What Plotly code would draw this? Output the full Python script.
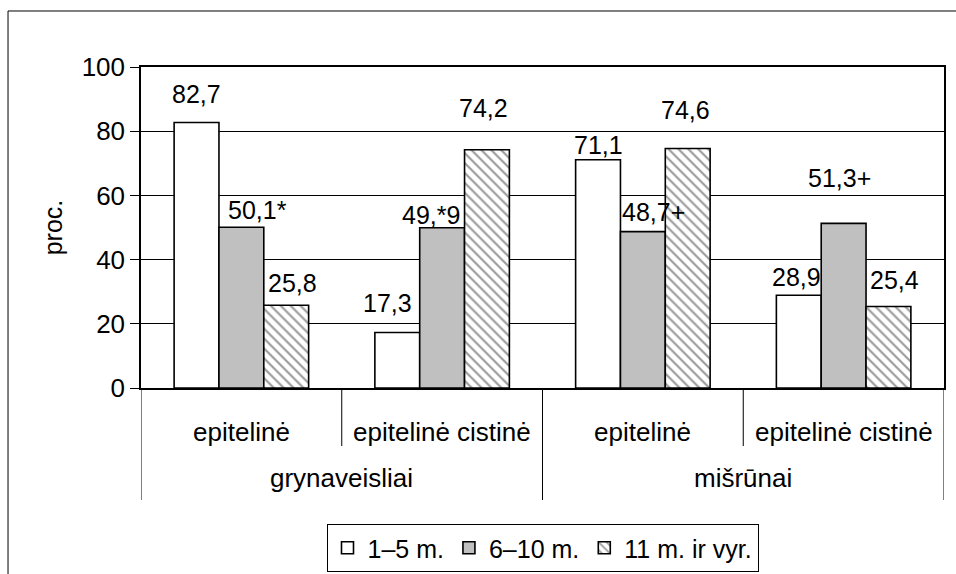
import plotly.graph_objects as go

# Categories: breed group (outer level) and tumour type (inner level)
groups = ["grynaveisliai", "grynaveisliai", "mišrūnai", "mišrūnai"]
types = ["epitelinė", "epitelinė cistinė", "epitelinė", "epitelinė cistinė"]

# Age classes and their shares, %
series_names = ["1–5 m.", "6–10 m.", "11 m. ir vyr."]
age_1_5 = [82.7, 17.3, 71.1, 28.9]
age_6_10 = [50.1, 49.9, 48.7, 51.3]
age_11_plus = [25.8, 74.2, 74.6, 25.4]
series_values = [age_1_5, age_6_10, age_11_plus]

# Label text per bar ({i} = integer part, {d} = decimal digit)
label_formats = [
    ["{i},{d}", "{i},{d}", "{i},{d}", "{i},{d}"],
    ["{i},{d}*", "{i},*{d}", "{i},{d}+", "{i},{d}+"],
    ["{i},{d}", "{i},{d}", "{i},{d}", "{i},{d}"],
]

# Label placement relative to the bar top (pixels)
label_dx = [[0, -9.5, 0, -2], [16.5, -11, 11, -4], [6, -3, -2, 6]]
label_dy = [[29, 29, 15, 18.5], [17, 13, 20, 45], [22, 41.5, 39, 26.5]]

FONT = "Liberation Sans, Arial, sans-serif"
FS = 25
FS_AXIS = 26
fill_colors = ["#FFFFFF", "#C0C0C0", "#FFFFFF"]
patterns = [None, None, dict(shape="\\", fgcolor="#333333", bgcolor="#FFFFFF",
                             size=7, solidity=0.3)]
BARGAP = 0.33

# Vertical placement of the category axis (paper units below the plot)
PLOT_H = 321
inner_label_y = -44 / PLOT_H
outer_label_y = -90 / PLOT_H
inner_sep_y = -58 / PLOT_H
outer_sep_y = -112 / PLOT_H

xpos = list(range(len(types)))

fig = go.Figure()
for j, (name, vals) in enumerate(zip(series_names, series_values)):
    marker = dict(color=fill_colors[j], line=dict(color="#000000", width=1.6))
    if patterns[j]:
        marker["pattern"] = patterns[j]
    fig.add_trace(go.Bar(name=name, x=xpos, y=vals, marker=marker))

# Value labels
n = len(series_values)
w = (1 - BARGAP) / n
for j, vals in enumerate(series_values):
    for k, v in enumerate(vals):
        whole, dec = f"{v:.1f}".split(".")
        text = label_formats[j][k].format(i=whole, d=dec)
        fig.add_annotation(
            x=xpos[k] + (j - (n - 1) / 2) * w, y=v, xref="x", yref="y",
            text=text, showarrow=False, yanchor="middle", xanchor="center",
            xshift=label_dx[j][k], yshift=label_dy[j][k],
            font=dict(family=FONT, size=FS, color="#000000"),
        )

# Two-level category labels
for k, t in enumerate(types):
    fig.add_annotation(x=xpos[k], y=inner_label_y, xref="x", yref="paper",
                       text=t, showarrow=False, yanchor="middle",
                       font=dict(family=FONT, size=FS_AXIS, color="#000000"))
seen = []
for g in groups:
    if g in seen:
        continue
    seen.append(g)
    idx = [xpos[k] for k in range(len(groups)) if groups[k] == g]
    fig.add_annotation(x=sum(idx) / len(idx), y=outer_label_y, xref="x", yref="paper",
                       text=g, showarrow=False, yanchor="middle",
                       font=dict(family=FONT, size=FS_AXIS, color="#000000"))

# Separators: short between types, long between groups and at the ends
for k in range(len(types) + 1):
    boundary = k - 0.5
    is_group_edge = k == 0 or k == len(types) or groups[k] != groups[k - 1]
    fig.add_shape(type="line", xref="x", yref="paper",
                  x0=boundary, x1=boundary, y0=0,
                  y1=outer_sep_y if is_group_edge else inner_sep_y,
                  line=dict(color="#000000", width=1))

# Outer frame
fig.add_shape(type="rect", xref="paper", yref="paper",
              x0=-0.1656, x1=1.06, y0=-0.75, y1=1.1745,
              line=dict(color="#000000", width=1), fillcolor="rgba(0,0,0,0)",
              layer="below")

fig.update_layout(
    width=956, height=574,
    margin=dict(l=141, r=12, t=67, b=186, autoexpand=False),
    paper_bgcolor="#FFFFFF", plot_bgcolor="#FFFFFF",
    barmode="group", bargap=BARGAP, bargroupgap=0,
    font=dict(family=FONT, size=FS, color="#000000"),
    showlegend=True,
    legend=dict(orientation="h", x=0.5, xanchor="center", y=-0.4237, yanchor="top",
                bordercolor="#000000", borderwidth=1, bgcolor="#FFFFFF",
                font=dict(family=FONT, size=FS), itemwidth=30,
                traceorder="normal"),
)
fig.update_xaxes(
    range=[-0.5, len(types) - 0.5], showline=True, mirror=True,
    linecolor="#000000", linewidth=1.5, showgrid=False, zeroline=False,
    showticklabels=False, ticks="",
)
fig.update_yaxes(
    range=[0, 100], dtick=20, showline=True, mirror=True, linecolor="#000000", linewidth=1.5,
    showgrid=True, gridcolor="#000000", gridwidth=1, zeroline=False,
    ticks="outside", ticklen=9, tickcolor="#000000",
    tickfont=dict(family=FONT, size=FS_AXIS),
    title=dict(text="proc.", font=dict(family=FONT, size=FS), standoff=12),
)

fig.write_html("out.html")
